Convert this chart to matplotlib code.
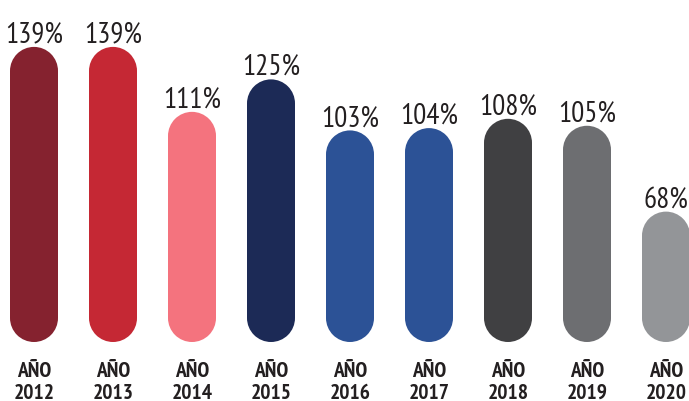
import matplotlib
matplotlib.use("Agg")
import matplotlib.pyplot as plt
from matplotlib.patches import Rectangle, Ellipse

years = ["2012", "2013", "2014", "2015", "2016", "2017", "2018", "2019", "2020"]
values = [139, 139, 111, 125, 103, 104, 108, 105, 68]
colors = ["#85222F", "#C52834", "#F4737E", "#1C2A56", "#2C5296",
          "#2C5296", "#404042", "#6D6E71", "#939598"]
labels = [f"{v}%" for v in values]
cat_top = ["AÑO"] * len(years)

FONT = ["PT Sans Narrow", "DejaVu Sans"]
plt.rcParams["font.family"] = FONT

W, H, DPI = 689, 402, 100
fig = plt.figure(figsize=(W / DPI, H / DPI), dpi=DPI)
ax = fig.add_axes([0, 0, 1, 1])

# scale geometry (pixels)
px_per_x = 79.0
x0_px = 34.0
px_per_y = 2.32
base = 11.8
base_px = 59.0  # from bottom
ax.set_xlim(-x0_px / px_per_x, (W - x0_px) / px_per_x)
ylo = base - base_px / px_per_y
ax.set_ylim(ylo, ylo + H / px_per_y)
ax.axis("off")

bar_w = 48 / px_per_x
ry = 24 / px_per_y  # vertical radius in data units

for i, (v, c, lab) in enumerate(zip(values, colors, labels)):
    ax.add_patch(Rectangle((i - bar_w / 2, base + ry), bar_w, (v - base) - 2 * ry,
                           facecolor=c, edgecolor="none"))
    ax.add_patch(Ellipse((i, base + ry), bar_w, 2 * ry, facecolor=c, edgecolor="none"))
    ax.add_patch(Ellipse((i, v - ry), bar_w, 2 * ry, facecolor=c, edgecolor="none"))
    ax.annotate(lab, (i, v), xytext=(0, 3.8), textcoords="offset points",
                ha="center", va="baseline", fontsize=21, color="#231F20")

for i, (t, y) in enumerate(zip(cat_top, years)):
    ax.text(i, ylo + (402 - 377) / px_per_y, t, ha="center",
            va="baseline", fontsize=15.5, fontweight="bold", color="#231F20")
    ax.text(i, ylo + (402 - 399) / px_per_y, y, ha="center",
            va="baseline", fontsize=15.5, fontweight="bold", color="#231F20")

fig.savefig("out.png", dpi=DPI, facecolor="white")
